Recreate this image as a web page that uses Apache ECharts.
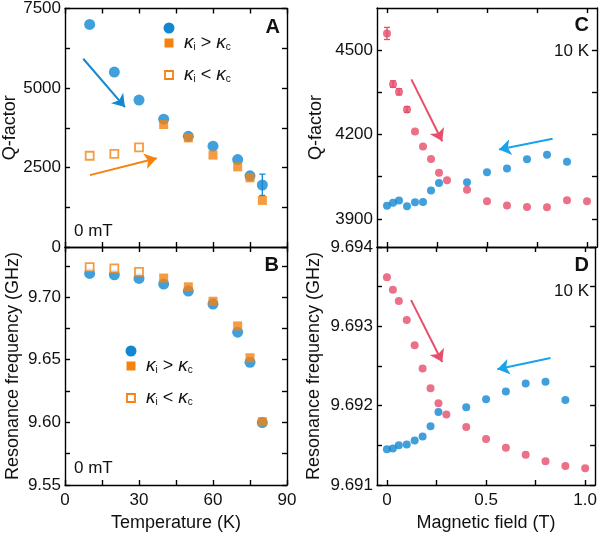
<!DOCTYPE html>
<html><head><meta charset="utf-8">
<script src="https://cdn.jsdelivr.net/npm/echarts@6/dist/echarts.min.js"></script>
<style>html,body{margin:0;padding:0;background:#fff}#c{width:600px;height:533px}</style>
</head><body><div id="c"></div>
<script>
// ---------- data ----------
const tempsAll = [10, 20, 30, 40, 50, 60, 70, 75, 80];
const tempsHigh = [40, 50, 60, 70, 75, 80];
const tempsLow = [10, 20, 30];
const qBlue = [7000, 5500, 4620, 4020, 3480, 3170, 2750, 2240, 1950];
const qOrangeFilled = [3850, 3430, 2890, 2520, 2175, 1465];
const qOrangeOpen = [2870, 2930, 3130];
const qBlueErr = [[80, 1620, 2290]];
const fBlue = [9.7189, 9.7178, 9.7149, 9.7104, 9.7048, 9.6945, 9.672, 9.648, 9.5998];
const fOrangeFilled = [9.7152, 9.7082, 9.6967, 9.677, 9.6516, 9.6006];
const fOrangeOpen = [9.7239, 9.7229, 9.7202];

const fieldPink = [0, 0.03, 0.06, 0.1, 0.14, 0.18, 0.22, 0.26, 0.3, 0.4, 0.5, 0.6, 0.7, 0.8, 0.9, 1.0];
const fieldBlue = [0, 0.03, 0.06, 0.1, 0.14, 0.18, 0.22, 0.26, 0.4, 0.5, 0.6, 0.7, 0.8, 0.9];
const qPink = [4559, 4379, 4352, 4289, 4211, 4157, 4113, 4064, 4037, 4004, 3963, 3948, 3942, 3941, 3966, 3963];
const qBlueField = [3947, 3957, 3965, 3945, 3959, 3960, 4001, 4028, 4030, 4066, 4079, 4112, 4128, 4103];
const qPinkErr = [[0, 4538, 4581], [0.03, 4368, 4391], [0.06, 4341, 4363], [0.1, 4279, 4299]];
const fPink = [9.69362, 9.69346, 9.69332, 9.69308, 9.69276, 9.69247, 9.69222, 9.69203, 9.69189, 9.69173, 9.69158, 9.69147, 9.69138, 9.69130, 9.69124, 9.69121];
const fBlueField = [9.69145, 9.69146, 9.69150, 9.69151, 9.69156, 9.69161, 9.69174, 9.69192, 9.69198, 9.69208, 9.69218, 9.69228, 9.69230, 9.69207];

const tempTicks = [0, 15, 30, 45, 60, 75, 90];
const tempLabels = [0, 30, 60, 90];
const qTicksA = [0, 1250, 2500, 3750, 5000, 6250, 7500];
const qLabelsA = [0, 2500, 5000, 7500];
const fTicksB = [9.55, 9.575, 9.6, 9.625, 9.65, 9.675, 9.7, 9.725];
const fLabelsB = [9.55, 9.6, 9.65, 9.7];
const fieldTicks = [0, 0.25, 0.5, 0.75, 1.0];
const fieldLabels = [0, 0.5, 1.0];
const qTicksC = [3900, 4050, 4200, 4350, 4500];
const qLabelsC = [3900, 4200, 4500];
const fTicksD = [9.691, 9.6915, 9.692, 9.6925, 9.693, 9.6935, 9.694];
const fLabelsD = [9.691, 9.692, 9.693, 9.694];

// arrows (data coordinates)
const arrowA_blue = [[7.4, 5920], [24.3, 4400]];
const arrowA_orange = [[10.1, 2260], [37.2, 2790]];
const arrowC_pink = [[0.122, 4396], [0.276, 4176]];
const arrowC_blue = [[0.828, 4185], [0.56, 4147]];
const arrowD_pink = [[0.122, 9.69333], [0.279, 9.69255]];
const arrowD_blue = [[0.825, 9.69260], [0.557, 9.69246]];

// ---------- style ----------
const FONT = '"Liberation Sans", Arial, sans-serif';
const INK = '#111';
const BLUE = '#1287d2';
const ORANGE = '#f5820f';
const PINK = '#e64e6c';
const LBLUE = '#1aa3ea';

function axis(extra) {
  const base = {
    type: 'value',
    axisLine: { show: true, onZero: false, lineStyle: { color: '#000', width: 1.4 } },
    axisTick: { show: true, inside: true, length: 5, lineStyle: { color: '#000', width: 1.4 } },
    axisLabel: { show: false },
    splitLine: { show: false },
    nameTextStyle: { fontFamily: FONT, fontSize: 18, color: INK }
  };
  const out = Object.assign({}, base, extra);
  if (extra.axisTick) out.axisTick = Object.assign({}, base.axisTick, extra.axisTick);
  if (extra.axisLabel) out.axisLabel = Object.assign({ show: true, fontFamily: FONT, fontSize: 17, color: INK, formatter: v => String(v) }, extra.axisLabel);
  return out;
}
function zip(xs, ys) { return xs.map((x, i) => [x, ys[i]]); }
function arrow(pts, color, curv) {
  return {
    silent: true, animation: false, symbol: ['none', 'arrow'], symbolSize: 12,
    label: { show: false }, emphasis: { disabled: true },
    lineStyle: { color: color, width: 2, type: 'solid', curveness: curv },
    data: [[{ coord: pts[0] }, { coord: pts[1] }]]
  };
}
function errSeries(xi, yi, data, color) {
  return {
    type: 'custom', xAxisIndex: xi, yAxisIndex: yi, data: data, silent: true, z: 1,
    renderItem: function (params, api) {
      const x = api.value(0), lo = api.value(1), hi = api.value(2);
      const p1 = api.coord([x, lo]), p2 = api.coord([x, hi]);
      const w = 3;
      return { type: 'group', children: [
        { type: 'line', shape: { x1: p1[0], y1: p1[1], x2: p2[0], y2: p2[1] }, style: { stroke: color, lineWidth: 1.3 } },
        { type: 'line', shape: { x1: p1[0] - w, y1: p1[1], x2: p1[0] + w, y2: p1[1] }, style: { stroke: color, lineWidth: 1.3 } },
        { type: 'line', shape: { x1: p2[0] - w, y1: p2[1], x2: p2[0] + w, y2: p2[1] }, style: { stroke: color, lineWidth: 1.3 } }
      ]};
    }
  };
}

const grids = [
  { left: 65, top: 8, width: 222, height: 239 },
  { left: 65, top: 247, width: 222, height: 240 },
  { left: 377, top: 8, width: 220, height: 239 },
  { left: 377, top: 247, width: 220, height: 240 }
];

const xAxes = [
  axis({ gridIndex: 0, position: 'bottom', min: 0, max: 90, axisTick: { customValues: tempTicks } }),
  axis({ gridIndex: 0, position: 'top', min: 0, max: 90, axisTick: { customValues: tempTicks } }),
  axis({ gridIndex: 1, position: 'bottom', min: 0, max: 90, axisTick: { customValues: tempTicks },
    axisLabel: { customValues: tempLabels, margin: 7 },
    name: 'Temperature (K)', nameLocation: 'middle', nameGap: 29 }),
  axis({ gridIndex: 1, position: 'top', min: 0, max: 90, axisTick: { customValues: tempTicks } }),
  axis({ gridIndex: 2, position: 'bottom', min: -0.05, max: 1.05, axisTick: { customValues: fieldTicks } }),
  axis({ gridIndex: 2, position: 'top', min: -0.05, max: 1.05, axisTick: { customValues: fieldTicks } }),
  axis({ gridIndex: 3, position: 'bottom', min: -0.05, max: 1.05, axisTick: { customValues: fieldTicks },
    axisLabel: { customValues: fieldLabels, margin: 7, formatter: v => (v === 0 ? '0' : Number(v).toFixed(1)) },
    name: 'Magnetic field (T)', nameLocation: 'middle', nameGap: 29 }),
  axis({ gridIndex: 3, position: 'top', min: -0.05, max: 1.05, axisTick: { customValues: fieldTicks } })
];

const yAxes = [
  axis({ gridIndex: 0, position: 'left', min: 0, max: 7500, axisTick: { customValues: qTicksA },
    axisLabel: { customValues: qLabelsA, margin: 4 },
    name: 'Q-factor', nameLocation: 'middle', nameGap: 46, nameRotate: 90 }),
  axis({ gridIndex: 0, position: 'right', min: 0, max: 7500, axisTick: { customValues: qTicksA } }),
  axis({ gridIndex: 1, position: 'left', min: 9.55, max: 9.74, axisTick: { customValues: fTicksB },
    axisLabel: { customValues: fLabelsB, margin: 4, formatter: v => Number(v).toFixed(2) },
    name: 'Resonance frequency (GHz)', nameLocation: 'middle', nameGap: 43, nameRotate: 90 }),
  axis({ gridIndex: 1, position: 'right', min: 9.55, max: 9.74, axisTick: { customValues: fTicksB } }),
  axis({ gridIndex: 2, position: 'left', min: 3800, max: 4650, axisTick: { customValues: qTicksC },
    axisLabel: { customValues: qLabelsC, margin: 4 },
    name: 'Q-factor', nameLocation: 'middle', nameGap: 52, nameRotate: 90 }),
  axis({ gridIndex: 2, position: 'right', min: 3800, max: 4650, axisTick: { customValues: qTicksC } }),
  axis({ gridIndex: 3, position: 'left', min: 9.691, max: 9.694, axisTick: { customValues: fTicksD },
    axisLabel: { customValues: fLabelsD, margin: 4, formatter: v => Number(v).toFixed(3) },
    name: 'Resonance frequency (GHz)', nameLocation: 'middle', nameGap: 54, nameRotate: 90 }),
  axis({ gridIndex: 3, position: 'right', min: 9.691, max: 9.694, axisTick: { customValues: fTicksD } })
];

const series = [
  errSeries(0, 0, qBlueErr, BLUE),
  { type: 'scatter', xAxisIndex: 0, yAxisIndex: 0, data: zip(tempsAll, qBlue), symbol: 'circle', symbolSize: 11,
    itemStyle: { color: BLUE }, z: 2, markLine: arrow(arrowA_blue, BLUE, -0.2) },
  { type: 'scatter', xAxisIndex: 0, yAxisIndex: 0, data: zip(tempsHigh, qOrangeFilled), symbol: 'rect', symbolSize: 9,
    itemStyle: { color: ORANGE }, z: 3 },
  { type: 'scatter', xAxisIndex: 0, yAxisIndex: 0, data: zip(tempsLow, qOrangeOpen), symbol: 'rect', symbolSize: 8,
    itemStyle: { color: '#fff', borderColor: ORANGE, borderWidth: 1.8 }, z: 3,
    markLine: arrow(arrowA_orange, ORANGE, -0.15) },
  { type: 'scatter', xAxisIndex: 2, yAxisIndex: 2, data: zip(tempsAll, fBlue), symbol: 'circle', symbolSize: 11,
    itemStyle: { color: BLUE }, z: 2 },
  { type: 'scatter', xAxisIndex: 2, yAxisIndex: 2, data: zip(tempsHigh, fOrangeFilled), symbol: 'rect', symbolSize: 9,
    itemStyle: { color: ORANGE }, z: 3 },
  { type: 'scatter', xAxisIndex: 2, yAxisIndex: 2, data: zip(tempsLow, fOrangeOpen), symbol: 'rect', symbolSize: 8,
    itemStyle: { color: '#fff', borderColor: ORANGE, borderWidth: 1.8 }, z: 3 },
  errSeries(4, 4, qPinkErr, PINK),
  { type: 'scatter', xAxisIndex: 4, yAxisIndex: 4, data: zip(fieldPink, qPink), symbol: 'circle', symbolSize: 8,
    itemStyle: { color: PINK }, z: 2, markLine: arrow(arrowC_pink, PINK, -0.08) },
  { type: 'scatter', xAxisIndex: 4, yAxisIndex: 4, data: zip(fieldBlue, qBlueField), symbol: 'circle', symbolSize: 8,
    itemStyle: { color: BLUE }, z: 2, markLine: arrow(arrowC_blue, LBLUE, -0.14) },
  { type: 'scatter', xAxisIndex: 6, yAxisIndex: 6, data: zip(fieldPink, fPink), symbol: 'circle', symbolSize: 8,
    itemStyle: { color: PINK }, z: 2, markLine: arrow(arrowD_pink, PINK, -0.08) },
  { type: 'scatter', xAxisIndex: 6, yAxisIndex: 6, data: zip(fieldBlue, fBlueField), symbol: 'circle', symbolSize: 8,
    itemStyle: { color: BLUE }, z: 2, markLine: arrow(arrowD_blue, LBLUE, -0.14) }
];

const rich = {
  k: { fontFamily: FONT, fontSize: 19, fontStyle: 'italic', fill: INK },
  s: { fontFamily: FONT, fontSize: 10, padding: [9, 0, 0, 0], fill: INK },
  n: { fontFamily: FONT, fontSize: 18, fill: INK }
};
function txt(x, y, text, opts) {
  return { type: 'text', x: x, y: y, z: 10, silent: true,
    style: Object.assign({ text: text, font: '17px ' + FONT, fill: INK, textAlign: 'left', textVerticalAlign: 'middle' }, opts || {}) };
}
function legendGroup(cx, yTop, yText, yOpen) {
  return [
    { type: 'circle', shape: { cx: cx, cy: yTop, r: 5.5 }, style: { fill: BLUE }, silent: true, z: 10 },
    { type: 'rect', shape: { x: cx - 4.5, y: yText - 4.5, width: 9, height: 9 }, style: { fill: ORANGE }, silent: true, z: 10 },
    { type: 'rect', shape: { x: cx - 4, y: yOpen - 4, width: 8, height: 8 }, style: { fill: '#fff', stroke: ORANGE, lineWidth: 1.8 }, silent: true, z: 10 },
    txt(cx + 15, yText, '{k|κ}{s|i}{n| > }{k|κ}{s|c}', { rich: rich }),
    txt(cx + 15, yOpen, '{k|κ}{s|i}{n| < }{k|κ}{s|c}', { rich: rich })
  ];
}

const graphic = [].concat(
  legendGroup(169, 28, 43, 75),
  legendGroup(131, 351, 366, 398),
  [
    txt(280, 27, 'A', { font: 'bold 20px ' + FONT, textAlign: 'right' }),
    txt(279, 265, 'B', { font: 'bold 20px ' + FONT, textAlign: 'right' }),
    txt(589, 25, 'C', { font: 'bold 20px ' + FONT, textAlign: 'right' }),
    txt(589, 51, '10 K', { textAlign: 'right' }),
    txt(589, 265, 'D', { font: 'bold 20px ' + FONT, textAlign: 'right' }),
    txt(589, 291, '10 K', { textAlign: 'right' }),
    txt(74, 231, '0 mT'),
    txt(74, 468, '0 mT')
  ]
);

const chart = echarts.init(document.getElementById('c'), null, { renderer: 'canvas' });
chart.setOption({
  animation: false,
  backgroundColor: '#fff',
  grid: grids,
  xAxis: xAxes,
  yAxis: yAxes,
  series: series,
  graphic: graphic
});
</script>
</body></html>
